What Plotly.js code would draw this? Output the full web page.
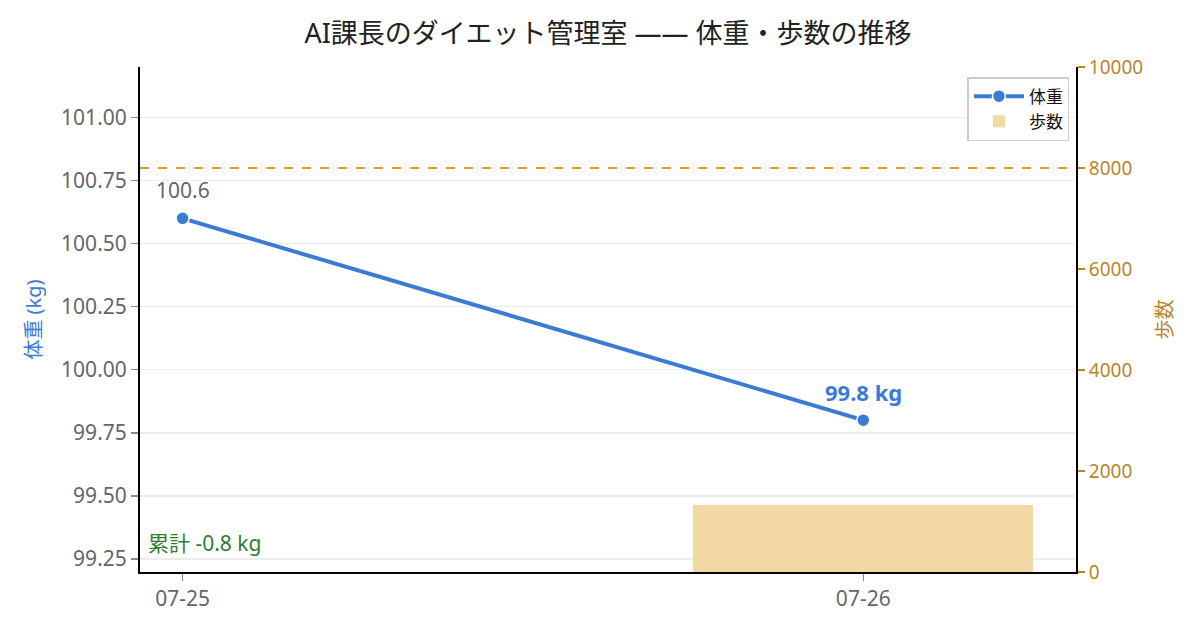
<!DOCTYPE html>
<html><head><meta charset="utf-8">
<script src="https://cdn.plot.ly/plotly-3.0.1.min.js"></script>
<style>body{margin:0;background:#fff}#c{width:1200px;height:630px}</style>
</head><body><div id="c"></div>
<script>
const dates = ['07-25', '07-26'];
const weights = [100.6, 99.8];
const stepDates = ['07-26'];
const steps = [1330];
const stepGoal = 8000;
const weightTicks = [99.25, 99.5, 99.75, 100.0, 100.25, 100.5, 100.75, 101.0];
const stepTicks = [0, 2000, 4000, 6000, 8000, 10000];
const cumulative = weights[weights.length - 1] - weights[0];

const FONT = '"Noto Sans", "Noto Sans CJK JP", sans-serif';
const BLUE = '#3b7bd4';
const GOLD = '#b8862b';

const traces = [
  {
    x: stepDates, y: steps, type: 'bar', name: '歩数', yaxis: 'y2',
    marker: {color: '#f2d8a2', line: {width: 0}},
    width: 0.5, hoverinfo: 'skip'
  },
  {
    x: dates, y: weights, type: 'scatter', mode: 'lines+markers', name: '体重',
    line: {color: BLUE, width: 4},
    marker: {size: 13, color: BLUE, line: {color: '#fff', width: 1.5}}
  }
];

const annotations = [
  {x: dates[0], y: weights[0], xref: 'x', yref: 'y', text: weights[0].toFixed(1),
   showarrow: false, yshift: 28, font: {size: 21, color: '#666', family: FONT}},
  {x: dates[1], y: weights[1], xref: 'x', yref: 'y', text: '<b>' + weights[1].toFixed(1) + ' kg</b>',
   showarrow: false, yshift: 28, font: {size: 22, color: BLUE, family: FONT}},
  {x: 0.006, y: 0.025, xref: 'paper', yref: 'paper', xanchor: 'left', yanchor: 'bottom',
   text: '累計 ' + cumulative.toFixed(1) + ' kg', showarrow: false,
   font: {size: 21, color: '#2e7d32', family: FONT}}
];

const layout = {
  width: 1200, height: 630,
  margin: {l: 140, r: 124, t: 67, b: 58},
  paper_bgcolor: '#fff', plot_bgcolor: '#fff',
  font: {family: FONT, color: '#666'},
  title: {text: 'AI課長のダイエット管理室 —— 体重・歩数の推移', xref: 'paper', x: 0.5, xanchor: 'center',
          y: 0.947, yanchor: 'middle', font: {size: 27, color: '#222', family: FONT}},
  showlegend: true,
  legend: {x: 0.993, y: 0.98, xanchor: 'right', yanchor: 'top', bgcolor: 'rgba(255,255,255,0.9)',
           bordercolor: '#ccc', borderwidth: 1.5, font: {size: 17, color: '#111', family: FONT},
           traceorder: 'reversed', itemwidth: 50},
  xaxis: {
    type: 'category', categoryorder: 'array', categoryarray: dates,
    range: [-0.0625, 1.3125], showgrid: false, zeroline: false,
    showline: true, linecolor: '#000', linewidth: 2,
    ticks: 'outside', ticklen: 7, tickcolor: '#888', tickwidth: 1.5,
    tickfont: {size: 21, color: '#666', family: FONT}
  },
  yaxis: {
    range: [99.198, 101.2], tickvals: weightTicks, ticktext: weightTicks.map(v => v.toFixed(2)),
    showgrid: true, gridcolor: '#ececec', gridwidth: 1.5, zeroline: false,
    showline: true, linecolor: '#000', linewidth: 2,
    ticks: 'outside', ticklen: 7, tickcolor: '#888', tickwidth: 1.5,
    tickfont: {size: 21, color: '#666', family: FONT},
    title: {text: '体重 (kg)', font: {size: 20, color: BLUE, family: FONT}, standoff: 14}
  },
  yaxis2: {
    overlaying: 'y', side: 'right', range: [0, 10000], tickvals: stepTicks,
    ticktext: stepTicks.map(v => String(v)),
    showgrid: false, zeroline: false, showline: true, linecolor: '#000', linewidth: 2,
    ticks: 'outside', ticklen: 7, tickcolor: GOLD, tickwidth: 1.5,
    tickfont: {size: 19, color: GOLD, family: FONT},
    title: {text: '歩数', font: {size: 20, color: GOLD, family: FONT}, standoff: 16}
  },
  shapes: [
    {type: 'line', xref: 'paper', x0: 0, x1: 1, yref: 'y2', y0: stepGoal, y1: stepGoal,
     line: {color: '#d89a32', width: 1.8, dash: 'dash'}}
  ],
  annotations: annotations,
  bargap: 0
};

Plotly.newPlot('c', traces, layout, {displayModeBar: false, staticPlot: true});
</script></body></html>
